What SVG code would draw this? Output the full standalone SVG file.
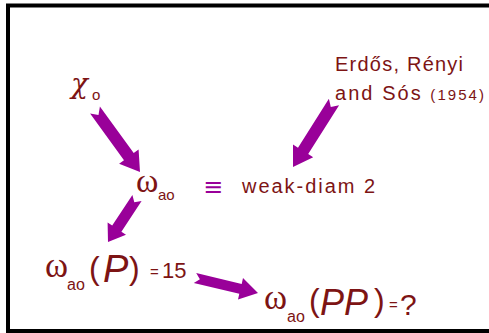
<svg xmlns="http://www.w3.org/2000/svg" width="489" height="333" viewBox="0 0 489 333">
<style>
.t{fill:#7d1414;font-family:"Liberation Sans","DejaVu Sans",sans-serif}
.g{fill:#7d1414;font-family:"Liberation Serif","DejaVu Serif",serif}
.c{fill:#7d1414;font-family:"DejaVu Serif",serif;font-style:italic}
.i{font-style:italic}
.arr{fill:#990099;stroke:none}
.eq{fill:#990099;font-family:"DejaVu Sans",sans-serif}
</style>
<rect x="0" y="0" width="489" height="333" fill="#ffffff"/>
<rect x="8" y="5.5" width="500" height="325.5" fill="#ffffff" stroke="#000000" stroke-width="4"/>
<g id="connectors">
<path class="arr" d="M90.1,113.5 L98.5,114.9 L99.9,106.5 L133.7,153.1 L138.6,149.6 L140,172 L119.1,163.7 L124,160.2 Z"/>
<path class="arr" d="M328.9,98.8 L330.8,107.1 L339.1,105.2 L308.2,154.1 L313.2,157.3 L293,167 L293,144.5 L298,147.7 Z"/>
<path class="arr" d="M132.4,195 L134.3,202.2 L141.6,201 L121.4,231.7 L126,234.7 L108,242 L107.6,222.6 L112.2,225.6 Z"/>
<path class="arr" d="M193.8,282.9 L199.9,279.2 L196.2,273.1 L241.7,284 L243,278.1 L258,293 L238,299.5 L239.3,293.7 Z"/>
</g>
<g id="chi">
<text class="c" x="71" y="93" font-size="28">χ</text>
<text class="t" x="92" y="100" font-size="15">o</text>
</g>
<g id="erdos">
<text class="t" x="335" y="71" font-size="20" textLength="128">Erdős, Rényi</text>
<text class="t" x="335" y="100" font-size="20" textLength="149">and Sós <tspan font-size="15">(1954)</tspan></text>
</g>
<g id="omega-ao">
<text class="g" x="136" y="192" font-size="34">ω</text>
<text class="t" x="158" y="200" font-size="15">ao</text>
<text class="eq" x="203" y="195" font-size="24">≡</text>
<text class="t" x="242" y="193" font-size="20" textLength="133">weak-diam 2</text>
</g>
<g id="omega-P">
<text class="g" x="45" y="277" font-size="35">ω</text>
<text class="t" x="67" y="290" font-size="16">ao</text>
<text class="t" x="89" y="279" font-size="32">(</text>
<text class="t i" x="103" y="282" font-size="38">P</text>
<text class="t" x="129" y="279" font-size="32">)</text>
<text class="t" x="150" y="277" font-size="15">=</text>
<text class="t" x="162" y="278" font-size="22">15</text>
</g>
<g id="omega-PP">
<text class="g" x="264" y="309" font-size="35">ω</text>
<text class="t" x="287" y="322" font-size="16">ao</text>
<text class="t" x="309" y="311" font-size="32">(</text>
<text class="t i" x="320" y="315" font-size="36">PP</text>
<text class="t" x="374" y="311" font-size="32">)</text>
<text class="t" x="389" y="310" font-size="15">=</text>
<text class="t" x="400" y="315" font-size="30">?</text>
</g>
</svg>
